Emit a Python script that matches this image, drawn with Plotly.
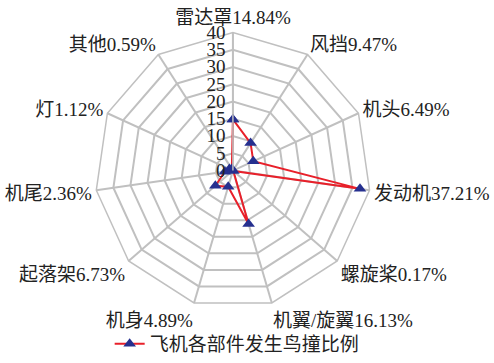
import plotly.graph_objects as go

# Bird-strike share by aircraft component (%), clockwise from the top
parts = ["雷达罩", "风挡", "机头", "发动机", "螺旋桨", "机翼/旋翼",
         "机身", "起落架", "机尾", "灯", "其他"]
shares = [14.84, 9.47, 6.49, 37.21, 0.17, 16.13, 4.89, 6.73, 2.36, 1.12, 0.59]
radial_ticks = [0, 5, 10, 15, 20, 25, 30, 35, 40]
series_name = "飞机各部件发生鸟撞比例"

labels = [f"{p}{v:.2f}%" for p, v in zip(parts, shares)]

font_family = "'Liberation Serif', 'Noto Sans CJK SC', serif"
grid_color = "#c0c0c0"

fig = go.Figure()
fig.add_trace(go.Scatterpolar(
    r=shares + shares[:1],
    theta=labels + labels[:1],
    mode="lines+markers",
    name=series_name,
    line=dict(color="#e8202a", width=2),
    marker=dict(symbol="triangle-up", size=11, color="#26308f"),
))

fig.update_layout(
    width=494, height=363,
    margin=dict(l=0, r=0, t=0, b=0),
    paper_bgcolor="white",
    font=dict(family=font_family, size=19, color="#222"),
    showlegend=True,
    legend=dict(orientation="h", x=0.222, y=-0.014, xanchor="left", yanchor="bottom",
                font=dict(size=19), bgcolor="rgba(0,0,0,0)"),
    polar=dict(
        domain=dict(x=[0.188, 0.755], y=[0.138, 0.909]),
        bgcolor="white",
        gridshape="linear",
        angularaxis=dict(
            direction="clockwise", rotation=90,
            gridcolor=grid_color, gridwidth=1.5,
            linecolor=grid_color, linewidth=1.5,
            ticks="", tickfont=dict(size=19),
        ),
        radialaxis=dict(
            range=[0, 40], tickvals=radial_ticks,
            angle=90, tickangle=90, side="counterclockwise",
            gridcolor=grid_color, gridwidth=1.5,
            linecolor=grid_color, linewidth=1.5,
            ticks="", tickfont=dict(size=19),
            showline=True,
        ),
    ),
)

fig.write_html("out.html")
